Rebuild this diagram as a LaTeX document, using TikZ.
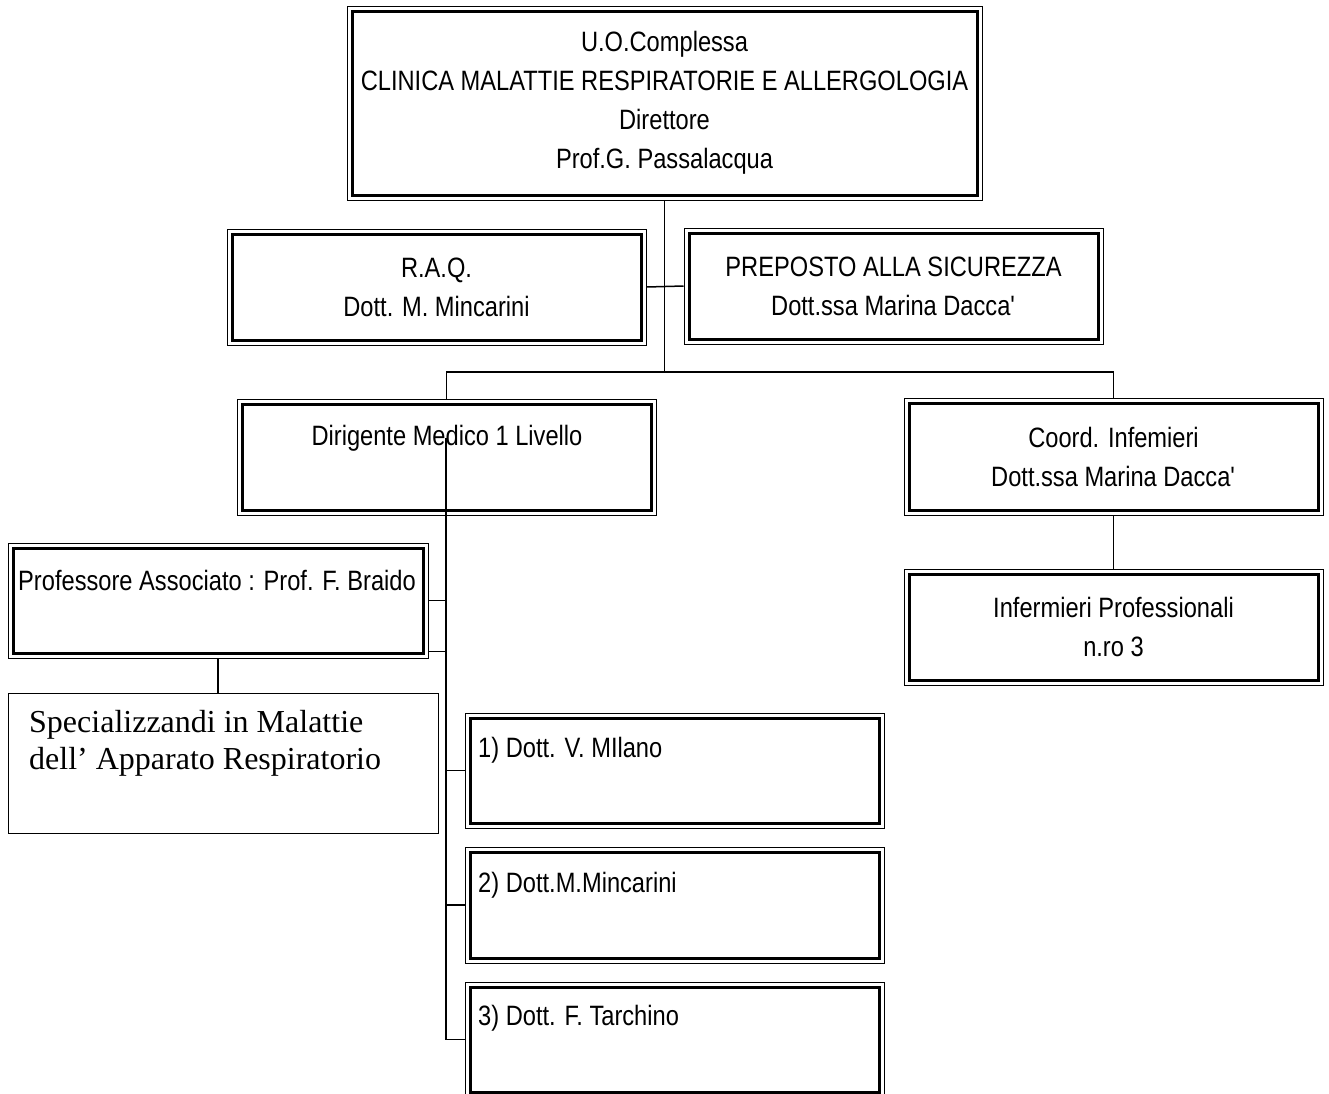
\documentclass[tikz,border=0pt]{standalone}
\usepackage{fontspec}
\setmainfont{Liberation Sans}[FakeStretch=0.845]
\newfontfamily\tmsfont{Liberation Serif}
\tikzset{
  box/.style={draw, line width=1pt, inner sep=0pt, align=center,
    font=\fontsize{28}{39}\selectfont},
  thickin/.style={line width=3pt},
  conn/.style={line width=1.5pt},
  lbl/.style={inner sep=0pt, font=\fontsize{28}{39}\selectfont, align=center},
}
\newcommand\dbox[6]{%
  \node[box, minimum width={(#4-#2)*1pt}, minimum height={(#5-#3)*1pt}]
    (#1) at ({(#2+#4)/2},{(#3+#5)/2}) {#6};
  \draw[thickin] ([shift={(5.5,5.5)}]#1.north west) rectangle ([shift={(-5.5,-5.5)}]#1.south east);}
\begin{document}
\begin{tikzpicture}[x=1pt,y=-1pt]
\useasboundingbox (0,0) rectangle (1329,1093);
\clip (0,0) rectangle (1329,1093);
% boxes
\dbox{top}{347}{6}{982}{200}{U.O.Complessa\\CLINICA MALATTIE RESPIRATORIE E ALLERGOLOGIA\\Direttore\\Prof.G. Passalacqua}
\dbox{raq}{227}{229}{646}{345}{R.A.Q.\\Dott. M. Mincarini}
\dbox{prep}{684}{228}{1103}{344}{PREPOSTO ALLA SICUREZZA\\Dott.ssa Marina Dacca\textquotesingle}
\dbox{dir}{237}{399}{656}{515}{}
\node[lbl] (dirt) at (447,438) {Dirigente Medico 1 Livello};
\dbox{coord}{904}{398}{1323}{515}{Coord. Infemieri\\Dott.ssa Marina Dacca\textquotesingle}
\dbox{inf}{904}{569}{1323}{685}{Infermieri Professionali\\n.ro 3}
\dbox{prof}{8}{543}{428}{658}{}
\node[lbl] (proft) at (217,580) {Professore Associato : Prof. F. Braido};
\node[draw, line width=1pt, minimum width=430pt, minimum height=140pt, inner sep=0pt]
  (spec) at (223,763) {};
\node[inner sep=0pt, anchor=west, align=left, font=\tmsfont\fontsize{32}{37}\selectfont]
  (spect) at (29,743) {Specializzandi in Malattie\\dell’ Apparato Respiratorio};
\dbox{d1}{465}{713}{884}{828}{}
\node[lbl, anchor=west] (d1t) at (478,750) {1) Dott. V. MIlano};
\dbox{d2}{465}{847}{884}{963}{}
\node[lbl, anchor=west] (d2t) at (478,885) {2) Dott.M.Mincarini};
\dbox{d3}{465}{982}{884}{1097}{}
\node[lbl, anchor=west] (d3t) at (478,1018) {3) Dott. F. Tarchino};
% connectors
\coordinate (bus) at (top.south |- 0,372);
\draw[conn] (top.south) -- (bus);
\draw[conn] (raq.east) -- (prep.west);
\draw[conn] (dir.north) -- (dir.north |- bus) -- (coord.north |- bus) -- (coord.north);
\draw[conn] (coord.south) -- (inf.north);
\coordinate (trunktop) at (446,438);
\coordinate (trunkbot) at (trunktop |- d3.west);
\draw[conn] (trunktop) -- (trunkbot) -- (d3.west);
\draw[conn] (trunktop |- d1.west) -- (d1.west);
\draw[conn] (trunktop |- d2.west) -- (d2.west);
\draw[conn] (prof.east) -- (trunktop |- prof.east);
\coordinate (profb) at ([yshift=7pt]prof.south east);
\draw[conn] (profb) -- (trunktop |- profb);
\draw[conn] (prof.south) -- (prof.south |- spec.north);
\end{tikzpicture}
\end{document}
